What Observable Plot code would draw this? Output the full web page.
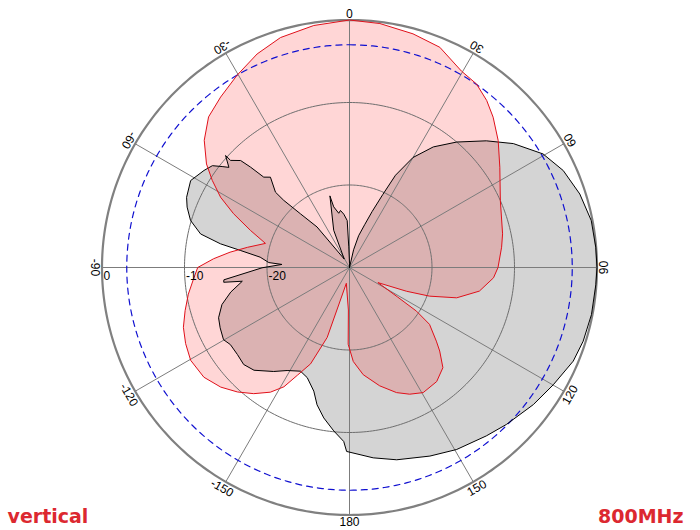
<!DOCTYPE html>
<html><head><meta charset="utf-8">
<script src="https://cdn.jsdelivr.net/npm/d3@7"></script>
<script src="https://cdn.jsdelivr.net/npm/@observablehq/plot@0.6"></script>
<style>
body{margin:0;background:#fff;}
#chart{position:relative;width:700px;height:530px;overflow:hidden;}
</style>
</head><body><div id="chart"></div>
<script>
// ---- data ----
const minDb = -30;                 // centre of the plot
const ringDbs = [-20, -10];        // thin grid rings
const outerDb = 0;                 // outer ring
const refDb = -3;                  // dashed reference ring
const spokeAngles = [0, 30, 60, 90, 120, 150, 180, -150, -120, -90, -60, -30];
const angleLabels = ["0", "30", "60", "90", "120", "150", "180", "-150", "-120", "-90", "-60", "-30"];
const dbTickValues = [0, -10, -20];
const dbTickLabels = ["0", "-10", "-20"];
const leftTitle = "vertical";
const rightTitle = "800MHz";

// red (pink) pattern: angle (deg, clockwise from top) and level (dB)
const redAngle = [-168.5, -162.3, -158, -154.2, -151.2, -147.6, -142.8, -138, -132.9, -127, -120.3, -114.9, -109.8, -104.7, -99.4, -94.5, -90, -86.3, -82.7, -78.8, -74, -69.5, -65.1, -61.4, -57.6, -54.1, -48.8, -43.1, -37.1, -30.3, -23.4, -16.7, -8.4, 0, 7.1, 15.2, 22.3, 29.7, 34.7, 39.4, 43.7, 49.5, 56.3, 66.1, 77.6, 82.4, 90, 94.1, 100.3, 105.8, 109.7, 112.6, 118, 121.5, 123.1, 125.4, 130.3, 132.8, 137, 142.6, 149.5, 154.6, 159.4, 165.7, 172.7, 177.7, 181, 181.5];
const redDb    = [-28.0, -21.1, -17.4, -15.5, -13.5, -12.1, -10.8, -9.7, -8.7, -7.9, -7.7, -8.1, -8.6, -9.4, -10.2, -11.0, -11.6, -13.5, -15.4, -17.4, -19.4, -17.2, -14.5, -12.2, -10.3, -8.6, -6.6, -5.0, -4.1, -3.0, -1.8, -0.9, -0.35, 0, -0.2, -0.65, -1.15, -2.6, -2.95, -3.8, -4.8, -6.3, -8.1, -10.0, -11.0, -11.4, -12.0, -12.5, -14.0, -16.5, -19.7, -22.5, -26.1, -23.2, -20.3, -18.1, -16.2, -15.1, -13.4, -12.6, -12.4, -13.0, -13.8, -15.2, -16.9, -18.6, -20.7, -24.8];

// grey pattern
const grayAngle = [3, 13, 16, 19.5, 22, 24.5, 26.5, 30, 34.8, 40.5, 47.2, 52.9, 59.6, 65.6, 72.3, 79, 85.3, 90, 94, 101, 107.5, 112.7, 119.9, 126.7, 135, 140.9, 149.5, 156.9, 166.2, 172.9, 180.9, -178.1, -174.5, -170.3, -166.7, -163.9, -159, -154.7, -148.8, -143.9, -137.1, -132.5, -127.8, -122.9, -119.8, -115, -111, -106.2, -101.7, -97.3, -96.7, -95.6, -90.2, -87.4, -86.5, -83.4, -81.1, -79.6, -77.3, -73.5, -69.6, -66.7, -61.3, -56.3, -53.4, -51.6, -50.3, -47.9, -48, -45.5, -44.6, -43.5, -41.2, -44.5, -44.4, -42.4, -38.7, -32, -23, -15.3, -14.6, -11.2, -9, -6.1, -2.8, -2, 0];
const grayDb    = [-30, -27.8, -26, -24.5, -22.7, -20.3, -17.5, -14.6, -12.2, -10.0, -7.4, -5.1, -2.8, -1.55, -0.7, -0.15, -0.05, 0, -0.07, -0.12, -0.3, -0.6, -1.5, -2.2, -3.1, -3.7, -4.4, -5.15, -6.0, -6.75, -7.7, -8.9, -10.1, -11.5, -12.9, -14.4, -15.7, -16.1, -15.4, -14.4, -13.0, -12.6, -12.8, -12.8, -12.4, -12.7, -13.0, -13.9, -15.3, -16.9, -14.65, -14.7, -19.4, -21.8, -20.2, -19.1, -16.6, -14.1, -11.5, -9.9, -9.0, -8.5, -8.05, -8.8, -9.3, -10.3, -11.0, -9.75, -10.6, -11.5, -12.9, -14.9, -15.45, -17.2, -18.6, -21.2, -23.7, -28.8, -25.1, -21.0, -22.4, -23.3, -23.0, -23.5, -24.3, -27.5, -29.5];

// ---- helpers ----
const rad = d => d * Math.PI / 180;
const rho = db => (db - minDb) / (outerDb - minDb);
const px = (a, db) => rho(db) * Math.sin(rad(a));
const py = (a, db) => rho(db) * Math.cos(rad(a));

const redPts = redAngle.map((a, i) => ({a, db: redDb[i]}));
const grayPts = grayAngle.map((a, i) => ({a, db: grayDb[i]}));
const circle = db => d3.range(0, 361, 1).map(a => ({a, db}));
const ringPts = ringDbs.flatMap(db => circle(db));
const spokes = spokeAngles.map((a, i) => ({a, label: angleLabels[i]}));
const dbTicks = dbTickValues.map((v, i) => ({v, label: dbTickLabels[i]}));

const R = 247.5, cx = 349, cy = 267;
const W = 700, H = 530;
const labelRho = 250 / R;

const chart = Plot.plot({
  width: W, height: H,
  marginLeft: cx - R, marginRight: W - cx - R,
  marginTop: cy - R, marginBottom: H - cy - R,
  x: {domain: [-1, 1], axis: null},
  y: {domain: [-1, 1], axis: null},
  style: {fontFamily: "'Liberation Sans', Arial, sans-serif", background: "white"},
  marks: [
    // fills
    Plot.line(grayPts, {x: d => px(d.a, d.db), y: d => py(d.a, d.db), curve: "linear-closed", fill: "black", fillOpacity: 0.17, stroke: "none"}),
    Plot.line(redPts, {x: d => px(d.a, d.db), y: d => py(d.a, d.db), curve: "linear-closed", fill: "red", fillOpacity: 0.16, stroke: "none"}),
    // grid
    Plot.link(spokes, {x1: 0, y1: 0, x2: d => px(d.a, outerDb), y2: d => py(d.a, outerDb), stroke: "#7c7c7c", strokeWidth: 1}),
    Plot.line(ringPts, {x: d => px(d.a, d.db), y: d => py(d.a, d.db), z: "db", stroke: "#6e6e6e", strokeWidth: 1}),
    Plot.line(circle(refDb), {x: d => px(d.a, d.db), y: d => py(d.a, d.db), stroke: "#1010d0", strokeWidth: 1.2, strokeDasharray: "6,5"}),
    Plot.line(circle(outerDb), {x: d => px(d.a, d.db), y: d => py(d.a, d.db), stroke: "#808080", strokeWidth: 2.2}),
    // outlines
    Plot.line(grayPts, {x: d => px(d.a, d.db), y: d => py(d.a, d.db), curve: "linear-closed", stroke: "black", strokeWidth: 1}),
    Plot.line(redPts, {x: d => px(d.a, d.db), y: d => py(d.a, d.db), curve: "linear-closed", stroke: "#e0101a", strokeWidth: 1}),
    // angle labels
    Plot.text(spokes, {x: d => labelRho * Math.sin(rad(d.a)), y: d => labelRho * Math.cos(rad(d.a)), text: "label", rotate: d => d.a + 180, lineAnchor: "top", textAnchor: "middle", fontSize: 12, fill: "black"}),
    // dB labels
    Plot.text(dbTicks, {x: d => -rho(d.v), y: 0, text: "label", textAnchor: "start", lineAnchor: "top", dx: 1.5, dy: 4, fontSize: 12, fill: "black"}),
    // corner titles
    Plot.text([leftTitle], {frameAnchor: "bottom-left", text: d => d, textAnchor: "start", lineAnchor: "bottom", dx: 7 - (cx - R), dy: 7.5, fontSize: 19, fontWeight: "bold", fontFamily: "'DejaVu Sans', sans-serif", fill: "#dc2830"}),
    Plot.text([rightTitle], {frameAnchor: "bottom-right", text: d => d, textAnchor: "end", lineAnchor: "bottom", dx: 683 - (cx + R), dy: 7.5, fontSize: 19, fontWeight: "bold", fontFamily: "'DejaVu Sans', sans-serif", fill: "#dc2830"})
  ]
});
document.getElementById("chart").appendChild(chart);
</script>
</body></html>
